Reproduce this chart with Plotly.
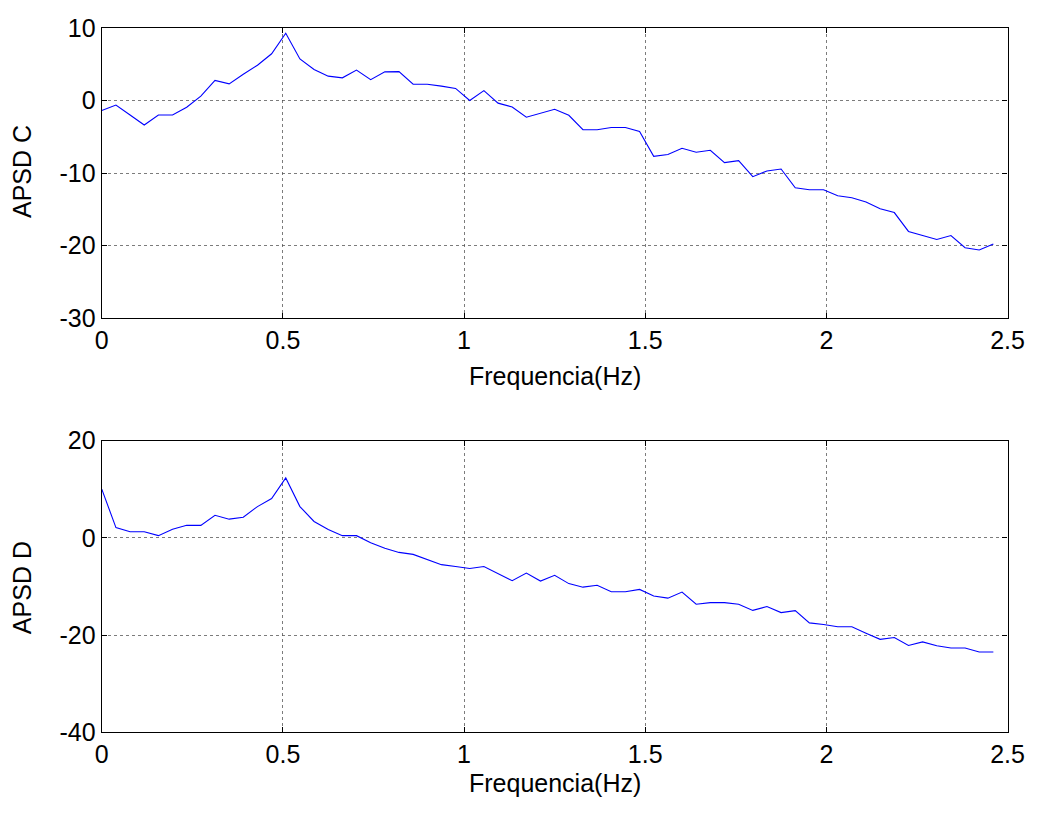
import plotly.graph_objects as go

freq_hz = [0.0, 0.0391, 0.0781, 0.1172, 0.1563, 0.1953, 0.2344, 0.2734, 0.3125, 0.3516,
           0.3906, 0.4297, 0.4688, 0.5078, 0.5469, 0.5859, 0.6250, 0.6641, 0.7031, 0.7422,
           0.7813, 0.8203, 0.8594, 0.8984, 0.9375, 0.9766, 1.0156, 1.0547, 1.0938, 1.1328,
           1.1719, 1.2109, 1.2500, 1.2891, 1.3281, 1.3672, 1.4063, 1.4453, 1.4844, 1.5234,
           1.5625, 1.6016, 1.6406, 1.6797, 1.7188, 1.7578, 1.7969, 1.8359, 1.8750, 1.9141,
           1.9531, 1.9922, 2.0313, 2.0703, 2.1094, 2.1484, 2.1875, 2.2266, 2.2656, 2.3047,
           2.3438, 2.3828, 2.4219, 2.4609]

apsd_c = [-1.38, -0.62, -2.0, -3.37, -2.0, -2.0, -0.93, 0.61, 2.78, 2.3,
          3.62, 4.86, 6.45, 9.28, 5.74, 4.28, 3.36, 3.13, 4.19, 2.87,
          3.95, 3.98, 2.25, 2.25, 1.99, 1.67, 0.0, 1.37, -0.36, -0.89,
          -2.3, -1.73, -1.2, -2.04, -4.03, -4.03, -3.72, -3.72, -4.25, -7.7,
          -7.44, -6.59, -7.13, -6.86, -8.55, -8.29, -10.5, -9.71, -9.44, -12.03,
          -12.3, -12.3, -13.14, -13.41, -13.98, -14.92, -15.45, -18.05, -18.58, -19.16,
          -18.62, -20.3, -20.6, -19.79]

apsd_d = [10.04, 2.13, 1.27, 1.27, 0.47, 1.8, 2.59, 2.59, 4.65, 3.86,
          4.26, 6.45, 8.1, 12.35, 6.45, 3.39, 1.73, 0.47, 0.47, -0.99,
          -2.12, -2.98, -3.38, -4.37, -5.5, -5.89, -6.29, -5.89, -7.28, -8.81,
          -7.22, -8.87, -7.68, -9.4, -10.13, -9.73, -11.06, -11.06, -10.6, -11.95,
          -12.39, -11.13, -13.64, -13.32, -13.32, -13.64, -14.91, -14.12, -15.37, -14.97,
          -17.49, -17.81, -18.29, -18.29, -19.6, -20.87, -20.48, -22.13, -21.39, -22.19,
          -22.66, -22.66, -23.46, -23.46]

x_ticks = [0, 0.5, 1, 1.5, 2, 2.5]
x_tick_text = ["0", "0.5", "1", "1.5", "2", "2.5"]
yc_ticks = [10, 0, -10, -20, -30]
yc_tick_text = ["10", "0", "-10", "-20", "-30"]
yd_ticks = [20, 0, -20, -40]
yd_tick_text = ["20", "0", "-20", "-40"]
x_title = "Frequencia(Hz)"
yc_title = "APSD C"
yd_title = "APSD D"

FONT = "Liberation Sans, Arial, sans-serif"
# figure is sized to fit inside the page's default 8px body margin
OFF = 8
W, H = 1063 - 2 * OFF, 827 - 2 * OFF


def px_x(p):
    return (p - OFF) / W


def px_y(p):
    return 1 - (p - OFF) / H


fig = go.Figure()
fig.add_trace(go.Scatter(x=freq_hz, y=apsd_c, mode="lines",
                         line=dict(color="#0000ff", width=1.1), xaxis="x", yaxis="y",
                         showlegend=False))
fig.add_trace(go.Scatter(x=freq_hz, y=apsd_d, mode="lines",
                         line=dict(color="#0000ff", width=1.1), xaxis="x2", yaxis="y2",
                         showlegend=False))

xd = [px_x(105), px_x(1032)]
top_dom = [px_y(323), px_y(22.5)]
bot_dom = [px_y(752), px_y(450)]

common_axis = dict(
    showline=True, linecolor="black", linewidth=1.3, mirror="allticks",
    ticks="inside", ticklen=5, tickcolor="black", tickwidth=1,
    showgrid=True, gridcolor="rgba(80,80,80,0.75)", griddash="dot", gridwidth=1,
    zeroline=False, tickfont=dict(family=FONT, size=25, color="black"),
)

fig.update_layout(
    width=W, height=H,
    margin=dict(l=0, r=0, t=0, b=0),
    paper_bgcolor="white", plot_bgcolor="white",
    xaxis=dict(domain=xd, anchor="y", range=[0, 2.5], tickvals=x_ticks,
               ticktext=x_tick_text, **common_axis),
    yaxis=dict(domain=top_dom, anchor="x", range=[-30, 10], tickvals=yc_ticks,
               ticktext=yc_tick_text, **common_axis),
    xaxis2=dict(domain=xd, anchor="y2", range=[0, 2.5], tickvals=x_ticks,
                ticktext=x_tick_text, **common_axis),
    yaxis2=dict(domain=bot_dom, anchor="x2", range=[-40, 20], tickvals=yd_ticks,
                ticktext=yd_tick_text, **common_axis),
)

ann_font = dict(family=FONT, size=25, color="black")
mid_x = (xd[0] + xd[1]) / 2
fig.add_annotation(x=mid_x, y=px_y(383), xref="paper", yref="paper",
                   text=x_title, showarrow=False, font=ann_font, xanchor="center", yanchor="middle")
fig.add_annotation(x=mid_x, y=px_y(805), xref="paper", yref="paper",
                   text=x_title, showarrow=False, font=ann_font, xanchor="center", yanchor="middle")
fig.add_annotation(x=px_x(24), y=px_y(171), xref="paper", yref="paper", textangle=-90,
                   text=yc_title, showarrow=False, font=ann_font, xanchor="center", yanchor="middle")
fig.add_annotation(x=px_x(24), y=px_y(602), xref="paper", yref="paper", textangle=-90,
                   text=yd_title, showarrow=False, font=ann_font, xanchor="center", yanchor="middle")

fig.write_html("out.html")
